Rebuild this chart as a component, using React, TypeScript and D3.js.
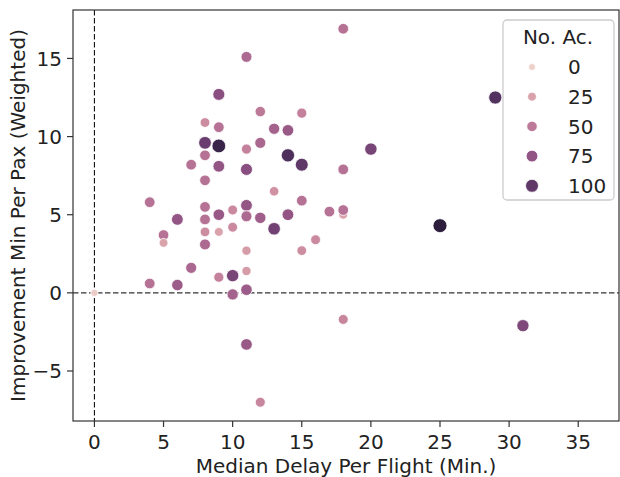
import React from 'react';
import * as d3 from 'd3';

// median delay per flight (min), one entry per point
const delay = [11, 18, 18, 11, 12, 9, 15, 8, 9, 13, 14, 8, 9, 11, 12, 14, 15, 20, 29,
  8, 7, 9, 11, 18, 8, 13, 4, 15, 8, 10, 11, 11, 12, 14, 17, 18, 6, 8, 9, 10, 13,
  5, 5, 8, 9, 8, 11, 15, 16, 7, 11, 9, 10, 4, 6, 11, 10, 0, 18, 11, 12, 25, 31];
// improvement min per pax (weighted)
const improvement = [5.1, 5.0, 16.9, 15.1, 11.6, 12.7, 11.5, 10.9, 10.6, 10.5, 10.4, 9.6, 9.4, 9.2, 9.6, 8.8, 8.2, 9.2, 12.5,
  8.8, 8.2, 8.1, 7.9, 7.9, 7.2, 6.5, 5.8, 5.9, 5.5, 5.3, 5.6, 4.9, 4.8, 5.0, 5.2, 5.3, 4.7, 4.7, 5.0, 4.2, 4.1,
  3.7, 3.2, 3.9, 3.9, 3.1, 2.7, 2.7, 3.4, 1.6, 1.4, 1.0, 1.1, 0.6, 0.5, 0.2, -0.1, 0.0, -1.7, -3.3, -7.0, 4.3, -2.1];
// number of aircraft
const noAc = [20, 25, 55, 60, 50, 80, 45, 38, 55, 65, 72, 95, 118, 45, 62, 108, 100, 88, 105,
  55, 55, 75, 80, 55, 55, 35, 55, 55, 55, 40, 75, 60, 68, 75, 55, 55, 75, 55, 72, 40, 92,
  55, 25, 38, 25, 60, 30, 38, 40, 62, 30, 45, 88, 55, 70, 70, 65, 3, 42, 72, 42, 124, 85];

const legendValues = [0, 25, 50, 75, 100];
const xTicks = [0, 5, 10, 15, 20, 25, 30, 35];
const yTicks = [-5, 0, 5, 10, 15];

const W = 620, H = 477;
const left = 73, right = 619, top = 10, bottom = 421;
const FONT = 'DejaVu Sans, sans-serif';

// matplotlib-style cubehelix (start 0, rot .4, hue .8), light .85 -> dark .15 like seaborn
const cubehelix = (x: number) => {
  const a = 0.8 * x * (1 - x) / 2;
  const phi = 2 * Math.PI * (0.4 * x);
  const c = Math.cos(phi), s = Math.sin(phi);
  const clip = (v: number) => Math.round(255 * Math.max(0, Math.min(1, v)));
  const r = x + a * (-0.14861 * c + 1.78277 * s);
  const g = x + a * (-0.29227 * c - 0.90649 * s);
  const b = x + a * (1.97294 * c);
  return d3.rgb(clip(r), clip(g), clip(b)).formatHex();
};

const hueMax = d3.max(noAc) as number;
const norm = d3.scaleLinear().domain([0, hueMax]).range([0, 1]);
const color = (v: number) => cubehelix(0.85 - 0.7 * norm(v));
const radius = (v: number) => 1.65 * Math.sqrt(18 + 54 * norm(v)) / 2;

export default function App() {
  const x = d3.scaleLinear().domain([-1.55, 37.95]).range([left, right]);
  const y = d3.scaleLinear().domain([-8.2, 18.1]).range([bottom, top]);

  const pts = delay.map((d, i) => ({ x: d, y: improvement[i], n: noAc[i] }));

  return (
    <svg width={W} height={H} style={{ position: 'absolute', left: 0, top: 0 }} fontFamily={FONT}>
      <rect width={W} height={H} fill="#fff" />
      <line x1={x(0)} x2={x(0)} y1={top} y2={bottom} stroke="#111" strokeWidth={1.1} strokeDasharray="5.5,2.5" />
      <line x1={left} x2={right} y1={y(0)} y2={y(0)} stroke="#333" strokeWidth={1.1} strokeDasharray="5.5,2.5" />
      {pts.map((p, i) => (
        <circle key={i} cx={x(p.x)} cy={y(p.y)} r={radius(p.n)} fill={color(p.n)} stroke="#fff" strokeWidth={0.8} />
      ))}
      <rect x={left} y={top} width={right - left} height={bottom - top} fill="none" stroke="#333" strokeWidth={1.2} />
      {xTicks.map(t => (
        <g key={t} transform={`translate(${x(t)},${bottom})`}>
          <line y2={6} stroke="#333" strokeWidth={1.2} />
          <text y={27.5} textAnchor="middle" fontSize={20} fill="#222">{t}</text>
        </g>
      ))}
      {yTicks.map(t => (
        <g key={t} transform={`translate(${left},${y(t)})`}>
          <line x2={-6} stroke="#333" strokeWidth={1.2} />
          <text x={-11} y={7.3} textAnchor="end" fontSize={20} fill="#222">{t < 0 ? '\u2212' + Math.abs(t) : t}</text>
        </g>
      ))}
      <text x={(left + right) / 2} y={473} textAnchor="middle" fontSize={20} fill="#222">Median Delay Per Flight (Min.)</text>
      <text transform={`translate(24.5,${(top + bottom) / 2}) rotate(-90)`} textAnchor="middle" fontSize={20} fill="#222">
        Improvement Min Per Pax (Weighted)
      </text>
      <g>
        <rect x={503} y={20} width={111} height={180} rx={4} fill="#fff" fillOpacity={0.8} stroke="#ccc" strokeWidth={1.3} />
        <text x={558} y={44} textAnchor="middle" fontSize={20} fill="#222">No. Ac.</text>
        {legendValues.map((v, i) => (
          <g key={v} transform={`translate(0,${67 + i * 29.7})`}>
            <circle cx={532} r={radius(v)} fill={color(v)} stroke="#fff" strokeWidth={0.8} />
            <text x={568} y={7.3} fontSize={20} fill="#222">{v}</text>
          </g>
        ))}
      </g>
    </svg>
  );
}
